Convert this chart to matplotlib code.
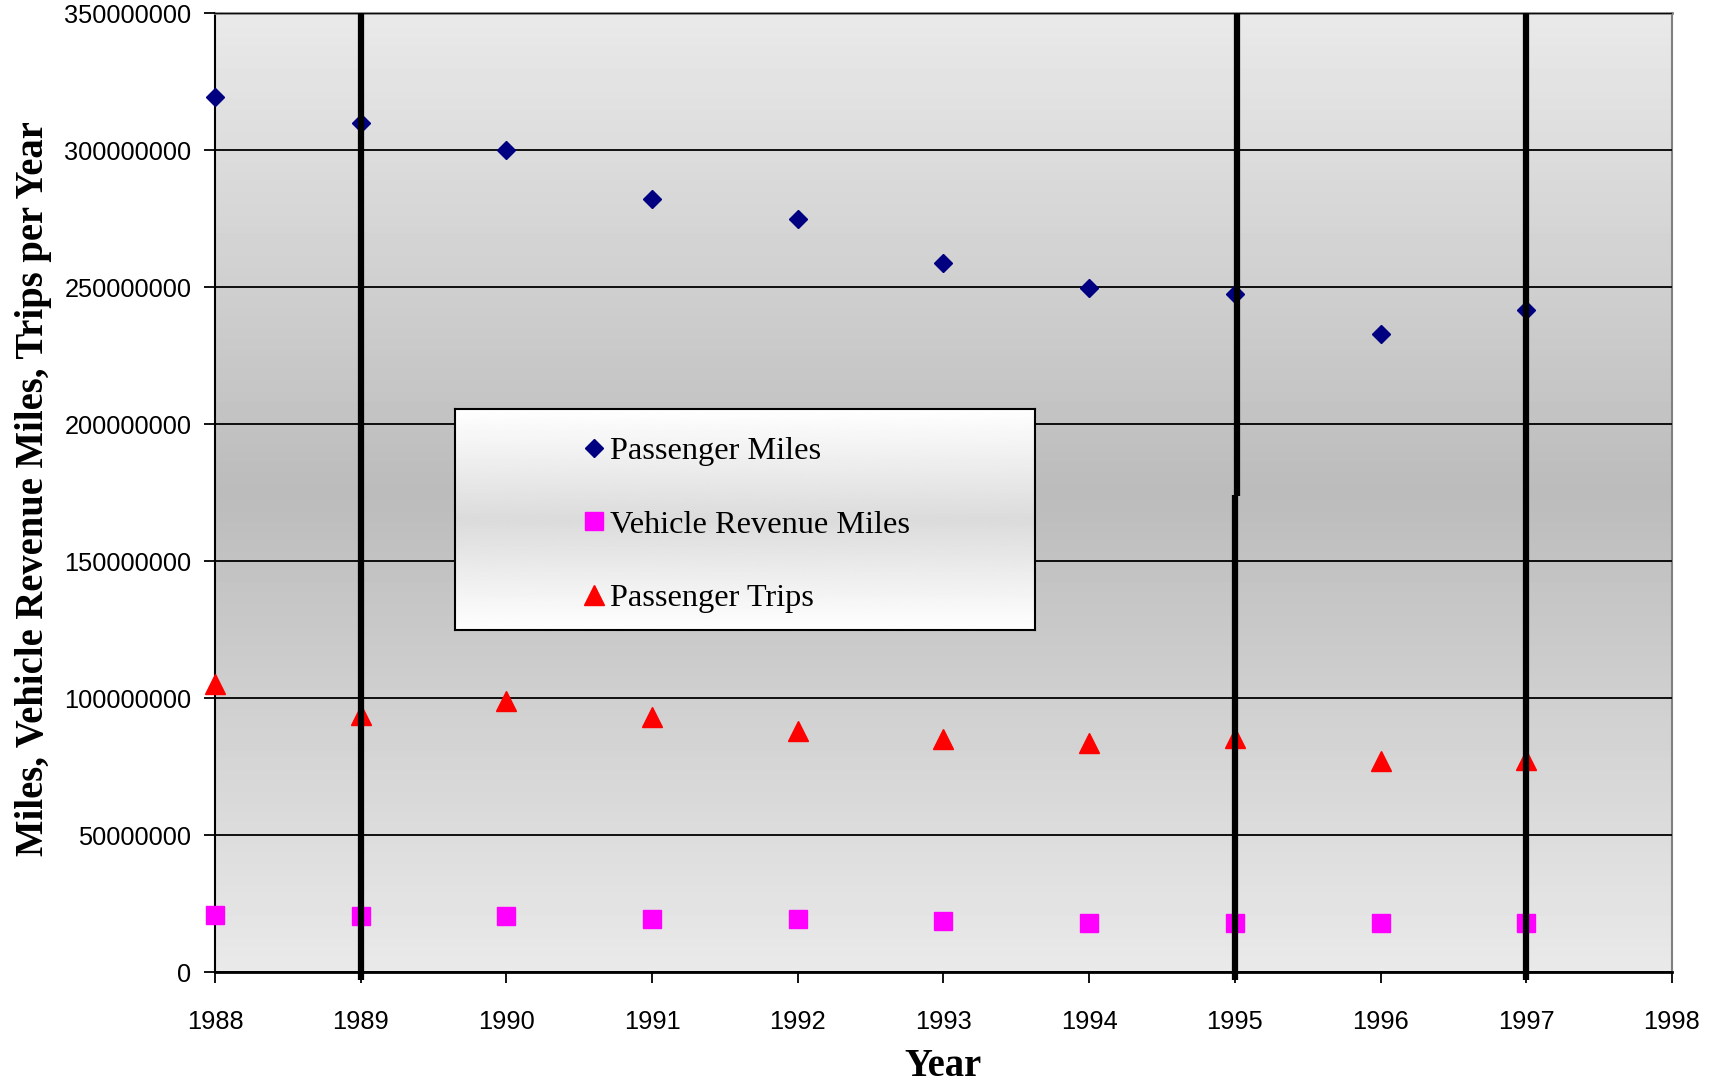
import matplotlib
matplotlib.use("Agg")
import matplotlib.pyplot as plt
import numpy as np

years = [1988, 1989, 1990, 1991, 1992, 1993, 1994, 1995, 1996, 1997]
passenger_miles = [319.3e6, 310e6, 300e6, 282e6, 275e6, 258.7e6, 249.5e6, 247.5e6, 233e6, 241.5e6]
vehicle_rev_miles = [20.7e6, 20.3e6, 20.3e6, 19.5e6, 19.5e6, 18.7e6, 17.9e6, 17.9e6, 17.9e6, 17.9e6]
passenger_trips = [105e6, 93.7e6, 99e6, 93e6, 88e6, 85e6, 83.7e6, 85.3e6, 77e6, 77.3e6]

# thick black marker lines (x, bottom, top); the 1995 one is drawn in two pieces
event_lines = [(1989, -3e6, 350e6), (1995.013, 173.7e6, 350e6), (1995, -3e6, 174e6), (1997, -3e6, 350e6)]

xticks = list(range(1988, 1999))
yticks = list(range(0, 350000001, 50000000))

fig = plt.figure(figsize=(17.13, 10.84), dpi=100)
ax = fig.add_axes([0.1255, 0.1033, 0.8505, 0.8847])

# vertical grey gradient background, darkest in the middle
t = np.linspace(0, 1, 256)
shade = 0.735 + (0.915 - 0.735) * np.abs(t - 0.5) * 2
ax.imshow(shade[:, None], extent=[1988, 1998, 0, 350e6], aspect="auto",
          cmap="gray", vmin=0, vmax=1, zorder=0, origin="lower")

ax.set_xlim(1988, 1998)
ax.set_ylim(0, 350e6)
ax.set_axisbelow(False)
ax.yaxis.grid(True, color="black", lw=1.3, zorder=1)

h1, = ax.plot(years, passenger_miles, "D", color="#000080", ms=9.5, ls="none",
              clip_on=False, zorder=3, label="Passenger Miles")
h2, = ax.plot(years, vehicle_rev_miles, "s", color="#ff00ff", ms=13.5, ls="none",
              clip_on=False, zorder=3, label="Vehicle Revenue Miles")
h3, = ax.plot(years, passenger_trips, "^", color="#ff0000", ms=14, ls="none",
              clip_on=False, zorder=3, label="Passenger Trips")

for x, y0, y1 in event_lines:
    ax.plot([x, x], [y0, y1], color="black", lw=4.5, clip_on=False, zorder=4,
            solid_capstyle="butt")

ax.set_xticks(xticks)
ax.set_xticklabels([str(x) for x in xticks])
ax.set_yticks(yticks)
ax.set_yticklabels([str(y) for y in yticks])
ax.tick_params(axis="both", direction="out", length=8, width=1.3, colors="black",
               labelsize=18.3)
ax.tick_params(axis="x", pad=19)
ax.tick_params(axis="y", pad=9)
for lab in ax.get_xticklabels() + ax.get_yticklabels():
    lab.set_family("Liberation Sans")

ax.spines["left"].set_color("black")
ax.spines["left"].set_linewidth(1.5)
ax.spines["bottom"].set_color("black")
ax.spines["bottom"].set_linewidth(2)
ax.spines["top"].set_color("#808080")
ax.spines["top"].set_linewidth(2)
ax.spines["right"].set_color("#808080")
ax.spines["right"].set_linewidth(1.5)

fig.text(0.0195, 0.549, "Miles, Vehicle Revenue Miles, Trips per Year", rotation=90,
         ha="center", va="center", family="Liberation Serif", weight="bold", fontsize=27.8)
fig.text(0.5507, 0.016, "Year", ha="center", va="center", family="Liberation Serif",
         weight="bold", fontsize=27.8)

# legend box with its own white-grey-white gradient
lax = ax.inset_axes([0.1645, 0.357, 0.3985, 0.230], zorder=10)
lshade = 0.86 + (1.0 - 0.86) * np.abs(t - 0.5) * 2
lax.imshow(lshade[:, None], extent=[0, 1, 0, 1], aspect="auto", cmap="gray",
           vmin=0, vmax=1, origin="lower")
lax.set_xlim(0, 1)
lax.set_ylim(0, 1)
lax.set_xticks([])
lax.set_yticks([])
for s in lax.spines.values():
    s.set_color("black")
    s.set_linewidth(1.5)
lax.legend(handles=[h1, h2, h3], loc="center left", bbox_to_anchor=(0.218, 0.475),
           frameon=False, borderpad=0, borderaxespad=0, handlelength=0.8,
           handletextpad=0.1, labelspacing=1.36, numpoints=1,
           prop={"family": "Liberation Serif", "size": 23.3})

fig.savefig("out.png", dpi=100)
